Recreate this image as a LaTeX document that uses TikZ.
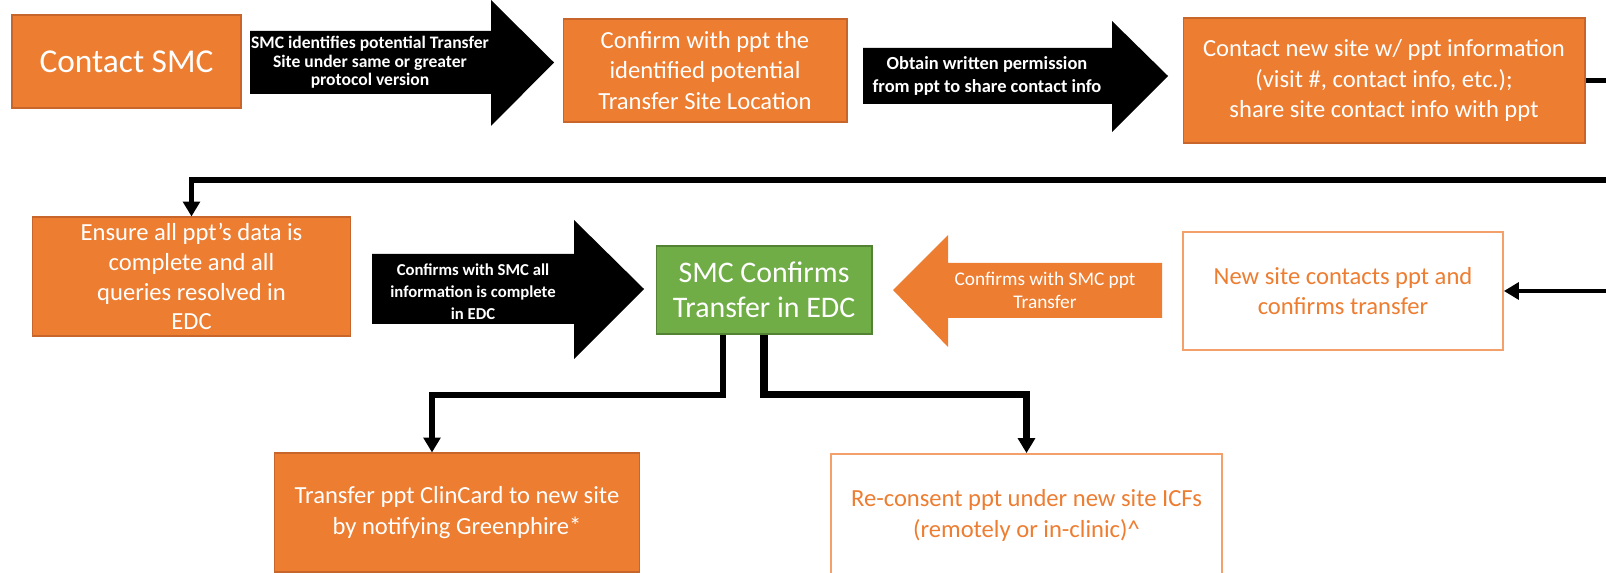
\documentclass[tikz,border=0pt]{standalone}
\usepackage{fontspec}
\setmainfont{Carlito}
\usepackage{tikz}
\usetikzlibrary{positioning}
\usetikzlibrary{calc}
\usetikzlibrary{arrows.meta}
\usepackage{xcolor}

\definecolor{boxorange}{HTML}{ED7D31}
\definecolor{edgeorange}{HTML}{C8652A}
\definecolor{paleorange}{HTML}{F4A06A}
\definecolor{boxgreen}{HTML}{70AD47}
\definecolor{edgegreen}{HTML}{548235}

\begin{document}
\begin{tikzpicture}[x=0.02cm, y=-0.02cm,
  orangebox/.style={fill=boxorange, draw=edgeorange, line width=0.6pt, text=white, align=center, inner sep=0pt, font=\fontsize{14}{17.5}\selectfont},
  openbox/.style={fill=white, draw=paleorange, line width=1pt, text=boxorange, align=center, inner sep=0pt, font=\fontsize{14}{17.5}\selectfont},
  greenbox/.style={fill=boxgreen, draw=edgegreen, line width=0.6pt, text=white, align=center, inner sep=0pt, font=\fontsize{17}{20}\selectfont},
  arrowtext/.style={text=white, align=center, inner sep=0pt},
  flowline/.style={line width=3.4pt},
  flowarrow/.style={line width=3.4pt, -{Triangle[length=8.5pt,width=9.5pt]}}
]

\useasboundingbox (0,0) rectangle (1606,573);

% top row
\node[orangebox, minimum width=4.58cm, minimum height=1.86cm, font=\fontsize{19}{22}\selectfont] (smc) at (126.5,61.5) {Contact SMC};
\node[orangebox, minimum width=5.68cm, minimum height=2.06cm] (confirm) at (705,70.5) {Confirm with ppt the\\identified potential\\Transfer Site Location};
\node[orangebox, minimum width=8.04cm, minimum height=2.5cm] (cnew) at (1384,80.5) {Contact new site w/ ppt information\\(visit \#, contact info, etc.);\\share site contact info with ppt};

\fill[black] (250,31)--++(241,0)--++(0,-31)--++(63,62.5)--++(-63,63.5)--++(0,-32)--++(-241,0)--cycle;
\node[arrowtext, font=\bfseries\fontsize{10}{10.6}\selectfont] (lblA) at (370,62.5) {SMC identifies potential Transfer\\Site under same or greater\\protocol version};

\fill[black] (863,48)--++(249,0)--++(0,-27)--++(56,55)--++(-56,56)--++(0,-28)--++(-249,0)--cycle;
\node[arrowtext, font=\bfseries\fontsize{10.5}{13}\selectfont] (lblB) at (987,76) {Obtain written permission\\from ppt to share contact info};

% middle row
\node[orangebox, minimum width=6.38cm, minimum height=2.38cm, font=\fontsize{14}{17}\selectfont] (ensure) at (191.5,276.5) {Ensure all ppt’s data is\\complete and all\\queries resolved in\\EDC};
\node[greenbox, minimum width=4.32cm, minimum height=1.76cm] (green) at (764,290) {SMC Confirms\\Transfer in EDC};
\node[openbox, minimum width=6.4cm, minimum height=2.36cm] (newsite) at (1343,291) {New site contacts ppt and\\confirms transfer};

\fill[black] (372,254)--++(202,0)--++(0,-34)--++(70,69)--++(-70,70)--++(0,-35)--++(-202,0)--cycle;
\node[arrowtext, font=\bfseries\fontsize{9.5}{12.5}\selectfont] (lblC) at (473,292) {Confirms with SMC all\\information is complete\\in EDC};

\fill[boxorange] (1162,263)--++(-214,0)--++(0,-28)--++(-55,55)--++(55,57)--++(0,-29)--++(214,0)--cycle;
\node[arrowtext, font=\fontsize{11}{13}\selectfont] (lblD) at (1045,290) {Confirms with SMC ppt\\Transfer};

% bottom row
\node[orangebox, minimum width=7.32cm, minimum height=2.38cm] (transfer) at (457,512.5) {Transfer ppt ClinCard to new site\\by notifying Greenphire*};
\node[openbox, minimum width=7.82cm, minimum height=2.46cm] (reconsent) at (1026.5,515.5) {Re-consent ppt under new site ICFs\\(remotely or in-clinic)\textasciicircum};

% connectors
\coordinate (rturn) at (1625,180);
\draw[flowline] (cnew.east) -| (rturn);
\draw[flowarrow] (rturn) -| (ensure.north);
\draw[flowarrow, line width=2.3pt] (rturn) |- (newsite.east);
\draw[flowarrow] ($(green.south)+(-41,0)$) --++(0,60) -| ($(transfer.north)+(-25,0)$);
\draw[flowarrow, line width=4.5pt] (green.south) --++(0,60) -| (reconsent.north);

\end{tikzpicture}
\end{document}
